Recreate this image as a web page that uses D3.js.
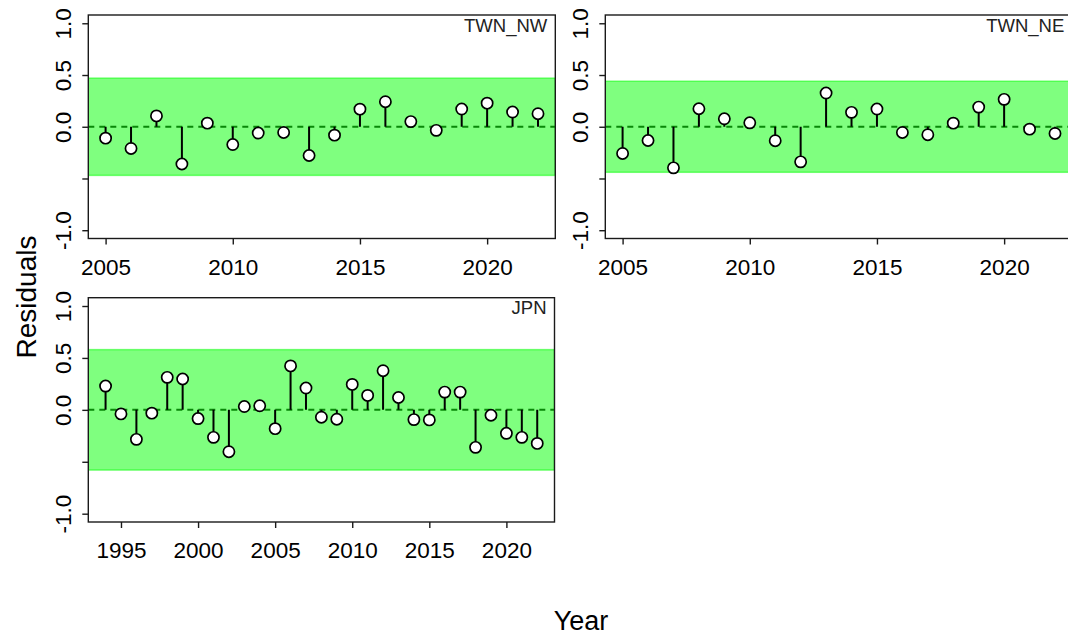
<!DOCTYPE html>
<html>
<head>
<meta charset="utf-8">
<script src="https://cdn.jsdelivr.net/npm/d3@7/dist/d3.min.js"></script>
<style>
body { margin: 0; background: #fff; }
svg { display: block; font-family: "Liberation Sans", Arial, sans-serif; }
</style>
</head>
<body>
<svg id="chart" width="1068" height="637"></svg>
<script>
// data
var yearsTWN = [2005, 2006, 2007, 2008, 2009, 2010, 2011, 2012, 2013,
    2014, 2015, 2016, 2017, 2018, 2019, 2020, 2021, 2022];
var residTWN_NW = [-0.11, -0.21, 0.105, -0.36, 0.035, -0.172, -0.061, -0.055, -0.278,
    -0.081, 0.17, 0.242, 0.05, -0.035, 0.171, 0.228, 0.142, 0.126];
var residTWN_NE = [-0.258, -0.133, -0.397, 0.174, 0.077, 0.038, -0.135, -0.339, 0.326,
    0.139, 0.171, -0.055, -0.077, 0.035, 0.19, 0.265, -0.023, -0.065];

var yearsJPN = [1994, 1995, 1996, 1997, 1998, 1999, 2000, 2001, 2002, 2003,
    2004, 2005, 2006, 2007, 2008, 2009, 2010, 2011, 2012, 2013,
    2014, 2015, 2016, 2017, 2018, 2019, 2020, 2021, 2022];
var residJPN = [0.229, -0.039, -0.284, -0.032, 0.313, 0.297, -0.084, -0.265, -0.403, 0.032,
    0.039, -0.181, 0.423, 0.21, -0.071, -0.09, 0.245, 0.139, 0.377, 0.119,
    -0.094, -0.097, 0.171, 0.171, -0.361, -0.052, -0.226, -0.265, -0.323];

// half width of the green band per fleet
var bandTWN_NW = 0.47;
var bandTWN_NE = 0.44;
var bandJPN = 0.58;

var yTicks = [-1, -0.5, 0, 0.5, 1];
var yTickLabels = ["-1.0", "", "0.0", "0.5", "1.0"];
var xTicksTWN = [2005, 2010, 2015, 2020];
var xTicksJPN = [1995, 2000, 2005, 2010, 2015, 2020];

var svg = d3.select("#chart");

function pad(ext) {
    var d = (ext[1] - ext[0]) * 0.04;
    return [ext[0] - d, ext[1] + d];
}

function buildPanel(box, name, years, resid, band, xTicks) {
    var x = d3.scaleLinear().domain(pad(d3.extent(years))).range([box.left, box.right]);
    var y = d3.scaleLinear().domain(pad([-1, 1])).range([box.bottom, box.top]);

    var g = svg.append("g");

    g.append("defs").append("clipPath")
        .attr("id", "clip_" + name)
        .append("rect")
        .attr("x", box.left).attr("y", box.top)
        .attr("width", box.right - box.left)
        .attr("height", box.bottom - box.top);

    var inner = g.append("g").attr("clip-path", "url(#clip_" + name + ")");

    // zero line under the band so it looks dark green
    inner.append("line")
        .attr("x1", box.left).attr("x2", box.right)
        .attr("y1", y(0)).attr("y2", y(0))
        .attr("stroke", "#111")
        .attr("stroke-width", 2)
        .attr("stroke-dasharray", "6,5");

    inner.append("rect")
        .attr("x", box.left)
        .attr("y", y(band))
        .attr("width", box.right - box.left)
        .attr("height", y(-band) - y(band))
        .attr("fill", "rgba(0,255,0,0.5)")
        .attr("stroke", "rgba(0,255,0,0.5)")
        .attr("stroke-width", 1.5);

    var pts = years.map(function(d, i) { return { year: d, value: resid[i] }; });

    inner.selectAll("line.stem")
        .data(pts)
        .enter()
        .append("line")
        .attr("class", "stem")
        .attr("x1", function(d) { return x(d.year); })
        .attr("x2", function(d) { return x(d.year); })
        .attr("y1", y(0))
        .attr("y2", function(d) { return y(d.value); })
        .attr("stroke", "#000")
        .attr("stroke-width", 2);

    inner.selectAll("circle")
        .data(pts)
        .enter()
        .append("circle")
        .attr("cx", function(d) { return x(d.year); })
        .attr("cy", function(d) { return y(d.value); })
        .attr("r", 5.6)
        .attr("fill", "#fff")
        .attr("stroke", "#000")
        .attr("stroke-width", 1.7);

    // box
    g.append("rect")
        .attr("x", box.left).attr("y", box.top)
        .attr("width", box.right - box.left)
        .attr("height", box.bottom - box.top)
        .attr("fill", "none")
        .attr("stroke", "#1a1a1a")
        .attr("stroke-width", 1.4);

    // axes
    var xAxis = g.append("g")
        .attr("transform", "translate(0," + box.bottom + ")")
        .call(d3.axisBottom(x).tickValues(xTicks).tickFormat(d3.format("d")).tickSize(6));
    xAxis.select(".domain").remove();
    xAxis.selectAll("line").attr("stroke", "#1a1a1a").attr("stroke-width", 1.4);
    xAxis.selectAll("text")
        .attr("font-size", 22.5)
        .attr("fill", "#000")
        .attr("dy", null)
        .attr("y", 36);

    var yAxis = g.append("g")
        .attr("transform", "translate(" + box.left + ",0)")
        .call(d3.axisLeft(y).tickValues(yTicks).tickFormat(function(d, i) { return yTickLabels[i]; }).tickSize(6));
    yAxis.select(".domain").remove();
    yAxis.selectAll("line").attr("stroke", "#1a1a1a").attr("stroke-width", 1.4);
    yAxis.selectAll("text")
        .attr("font-size", 22.5)
        .attr("fill", "#000")
        .attr("x", null)
        .attr("dy", null)
        .attr("text-anchor", "middle")
        .attr("transform", "translate(-17,0) rotate(-90)");

    g.append("text")
        .attr("x", box.right - 8)
        .attr("y", box.top + 16.5)
        .attr("text-anchor", "end")
        .attr("font-size", 18.5)
        .attr("fill", "#222")
        .text(name);
}

buildPanel({ left: 88.3, right: 555.3, top: 15, bottom: 238.5 }, "TWN_NW", yearsTWN, residTWN_NW, bandTWN_NW, xTicksTWN);
buildPanel({ left: 605.3, right: 1072.3, top: 15, bottom: 238.5 }, "TWN_NE", yearsTWN, residTWN_NE, bandTWN_NE, xTicksTWN);
buildPanel({ left: 88.3, right: 554.5, top: 297.7, bottom: 522 }, "JPN", yearsJPN, residJPN, bandJPN, xTicksJPN);

svg.append("text")
    .attr("transform", "translate(36,297) rotate(-90)")
    .attr("text-anchor", "middle")
    .attr("font-size", 28)
    .attr("fill", "#000")
    .text("Residuals");

svg.append("text")
    .attr("x", 581)
    .attr("y", 630)
    .attr("text-anchor", "middle")
    .attr("font-size", 27)
    .attr("fill", "#000")
    .text("Year");
</script>
</body>
</html>
